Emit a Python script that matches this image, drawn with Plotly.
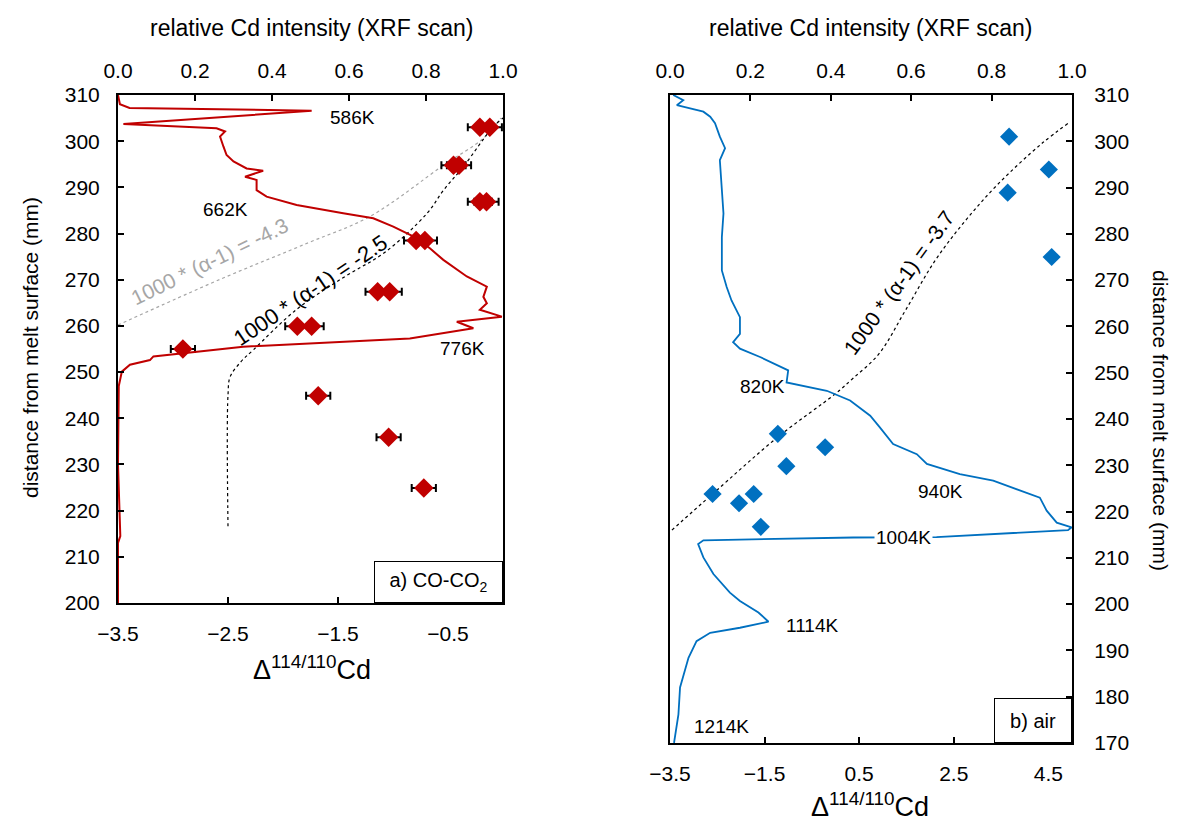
import plotly.graph_objects as go

# page body has an 8px margin: figure is 16px smaller, reference pixels shifted by 8
OFF = 8
W, H = 1184 - 2 * OFF, 832 - 2 * OFF


def px(x):
    return (x - OFF) / W


def py(y):
    return 1 - (y - OFF) / H


# ---------------- Panel a) CO-CO2 ----------------
a_delta = [-0.21, -0.12, -0.45, -0.40, -0.21, -0.15, -0.79, -0.71, -1.14, -1.03,
           -1.87, -1.74, -2.91, -1.68, -1.04, -0.72]
a_dist = [303.0, 303.0, 294.8, 294.8, 286.9, 286.9, 278.5, 278.5, 267.4, 267.4,
          259.9, 259.9, 255.0, 244.9, 235.9, 224.9]
a_err = [0.11] * len(a_delta)

a_xrf_int = [0.0, 0.005, 0.03, 0.503, 0.014, 0.10, 0.256, 0.278, 0.265, 0.274, 0.282,
             0.30, 0.334, 0.377, 0.33, 0.36, 0.36, 0.386, 0.464, 0.585, 0.663, 0.715,
             0.741, 0.776, 0.81, 0.845, 0.906, 0.958, 0.949, 0.958, 0.94, 0.997, 0.88,
             0.923, 0.758, 0.325, 0.092, 0.083, 0.031, 0.01, 0.002, 0.0, 0.006, 0.0, 0.0]
a_xrf_dist = [310, 308, 307.2, 306.6, 303.7, 303.4, 302.8, 302.1, 301, 298.8, 297,
              295.6, 294.1, 293.6, 292.3, 291.6, 289.4, 288, 286.2, 284.4, 283.3, 281.5,
              280.4, 279, 276.8, 274.3, 270.7, 268.5, 266.3, 264.9, 263.5, 262.0, 260.9,
              259.5, 257.3, 255.5, 253.4, 252.6, 251.6, 250.1, 247, 230, 214.5, 213, 200]

a_fit43_delta = [-3.5, -2.57, -1.77, -1.21, -0.54, -0.18, -0.02]
a_fit43_dist = [260.2, 270.1, 278.0, 283.7, 294.8, 300.6, 305.0]

a_fit25_delta = [-2.5, -2.5, -2.48, -2.38, -2.27, -1.88, -1.45, -1.07, -0.69, -0.54,
                 -0.36, -0.09, 0.0]
a_fit25_dist = [216.6, 245.0, 249.0, 252.3, 254.8, 263.5, 270.5, 276.0, 284.4, 289.4,
                294.5, 303.1, 305.0]

# ---------------- Panel b) air ----------------
b_delta = [3.67, 4.51, 3.64, 4.57, -1.22, -0.22, -1.04, -2.60, -1.73, -2.04, -1.58]
b_dist = [301.0, 293.9, 288.9, 275.0, 236.8, 233.9, 229.8, 223.8, 223.8, 221.8, 216.7]

b_xrf_int = [0.008, 0.033, 0.017, 0.083, 0.1, 0.112, 0.124, 0.137, 0.124, 0.129, 0.133,
             0.129, 0.129, 0.141, 0.153, 0.174, 0.174, 0.157, 0.174, 0.224, 0.294, 0.29,
             0.39, 0.448, 0.498, 0.522, 0.555, 0.614, 0.639, 0.721, 0.804, 0.92, 0.937,
             0.962, 0.999, 0.99, 0.663, 0.456, 0.083, 0.07, 0.083, 0.108, 0.149, 0.174,
             0.22, 0.245, 0.174, 0.1, 0.066, 0.046, 0.025, 0.021, 0.01]
b_xrf_dist = [310, 308.9, 307.8, 306.4, 305.3, 303.9, 301.0, 298.5, 295.9, 290.2, 284.4,
              279.3, 272.1, 268.5, 265.6, 262.0, 258.4, 256.6, 255.2, 253.4, 250.5, 247.9,
              246.1, 244.0, 240.7, 238.2, 234.6, 232.4, 230.3, 228.1, 226.7, 223.0, 220.2,
              217.6, 216.6, 216.0, 214.5, 214.4, 213.8, 213.0, 210.1, 206.5, 202.5, 200.7,
              198.2, 196.2, 194.9, 193.8, 192.0, 188.4, 182.0, 176.2, 170.0]

b_fit37_delta = [-3.46, -2.6, -1.22, -0.01, 0.36, 0.92, 1.48, 2.11, 2.75, 3.45, 4.36, 4.96]
b_fit37_dist = [216.0, 223.8, 236.1, 245.4, 248.7, 254.1, 263.5, 274.3, 282.9, 290.9,
                299.5, 304.2]

# temperature labels (intensity, distance, text)
a_temp_labels = [(0.608, 305.2, "586K"), (0.278, 285.3, "662K"), (0.894, 255.0, "776K")]
b_temp_labels = [(0.229, 247.0, "820K"), (0.672, 224.3, "940K"), (0.58, 214.3, "1004K"),
                 (0.353, 195.3, "1114K"), (0.129, 173.6, "1214K")]

RED = "#C00000"
BLUE = "#0070C0"
FONT = "Liberation Sans, Arial, sans-serif"

fig = go.Figure()

# Panel a
fig.add_trace(go.Scatter(x=a_xrf_int, y=a_xrf_dist, xaxis="x2", yaxis="y", mode="lines",
                         line=dict(color=RED, width=2), showlegend=False))
fig.add_trace(go.Scatter(x=a_fit43_delta, y=a_fit43_dist, xaxis="x", yaxis="y", mode="lines",
                         line=dict(color="#A6A6A6", width=1.2, dash="dot", shape="spline"),
                         showlegend=False))
fig.add_trace(go.Scatter(x=a_fit25_delta, y=a_fit25_dist, xaxis="x", yaxis="y", mode="lines",
                         line=dict(color="black", width=1.2, dash="dot", shape="spline"),
                         showlegend=False))
fig.add_trace(go.Scatter(x=a_delta, y=a_dist, xaxis="x", yaxis="y", mode="markers",
                         marker=dict(symbol="diamond", size=15, color=RED),
                         error_x=dict(type="data", array=a_err, color="black",
                                      thickness=2, width=4),
                         showlegend=False))

# Panel b
fig.add_trace(go.Scatter(x=b_xrf_int, y=b_xrf_dist, xaxis="x4", yaxis="y2", mode="lines",
                         line=dict(color=BLUE, width=1.8), showlegend=False))
fig.add_trace(go.Scatter(x=b_fit37_delta, y=b_fit37_dist, xaxis="x3", yaxis="y2", mode="lines",
                         line=dict(color="black", width=1.2, dash="dot", shape="spline"),
                         showlegend=False))
fig.add_trace(go.Scatter(x=b_delta, y=b_dist, xaxis="x3", yaxis="y2", mode="markers",
                         marker=dict(symbol="diamond", size=14, color=BLUE),
                         showlegend=False))

dom_xa = [px(118), px(503)]
dom_xb = [px(670), px(1072)]
dom_ya = [py(603), py(95)]
dom_yb = [py(743), py(95)]

tickfont = dict(family=FONT, size=21, color="black")
common = dict(showgrid=False, zeroline=False, showline=True, linecolor="black", linewidth=2,
              ticks="inside", ticklen=6, tickwidth=1.5, tickcolor="black", tickfont=tickfont,
              automargin=False)

fig.update_layout(
    width=W, height=H, margin=dict(l=0, r=0, t=0, b=0),
    paper_bgcolor="white", plot_bgcolor="white",
    xaxis=dict(domain=dom_xa, anchor="y", range=[-3.5, 0], tick0=-3.5, dtick=1,
               ticklabelstandoff=11, **common),
    xaxis2=dict(domain=dom_xa, anchor="y", overlaying="x", side="top", range=[0, 1],
                dtick=0.2, tickformat=".1f", ticklabelstandoff=7, **common),
    yaxis=dict(domain=dom_ya, anchor="x", range=[200, 310], dtick=10, mirror=True,
               ticklabelstandoff=12, **common),
    xaxis3=dict(domain=dom_xb, anchor="y2", range=[-3.5, 5], tick0=-3.5, dtick=2,
                ticklabelstandoff=11, **common),
    xaxis4=dict(domain=dom_xb, anchor="y2", overlaying="x3", side="top", range=[0, 1],
                dtick=0.2, tickformat=".1f", ticklabelstandoff=7, **common),
    yaxis2=dict(domain=dom_yb, anchor="x3", side="right", range=[170, 310], dtick=10,
                mirror=True, ticklabelstandoff=16, **common),
)

ann = []
txt = dict(family=FONT, size=19, color="black")
for xi, yi, t in a_temp_labels:
    ann.append(dict(x=xi, y=yi, xref="x2", yref="y", text=t, showarrow=False, font=txt))
for xi, yi, t in b_temp_labels:
    ann.append(dict(x=xi, y=yi, xref="x4", yref="y2", text=t, showarrow=False, font=txt,
                    bgcolor="white" if t == "1004K" else None))

# fit labels
ann.append(dict(x=-2.67, y=273.9, xref="x", yref="y", text="1000 * (α-1) = -4.3",
                showarrow=False, textangle=-26,
                font=dict(family=FONT, size=21, color="#A6A6A6")))
ann.append(dict(x=-1.75, y=267.6, xref="x", yref="y", text="1000 * (α-1) = -2.5",
                showarrow=False, textangle=-34,
                font=dict(family=FONT, size=22, color="black")))
ann.append(dict(x=1.34, y=269.5, xref="x3", yref="y2", text="1000 * (α-1) = -3.7",
                showarrow=False, textangle=-54,
                font=dict(family=FONT, size=21, color="black")))

# panel boxes
ann.append(dict(x=px(503), y=py(603), xref="paper", yref="paper", xanchor="right",
                yanchor="bottom", text="a) CO-CO<sub>2</sub>", showarrow=False,
                width=125, height=38, bgcolor="white", bordercolor="black", borderwidth=1,
                font=dict(family=FONT, size=20, color="black")))
ann.append(dict(x=px(1072), y=py(743), xref="paper", yref="paper", xanchor="right",
                yanchor="bottom", text="b) air", showarrow=False,
                width=74, height=41, bgcolor="white", bordercolor="black", borderwidth=1,
                font=dict(family=FONT, size=20, color="black")))

# axis titles
title_font = dict(family=FONT, size=23, color="black")
centered = dict(xref="paper", yref="paper", xanchor="center", yanchor="middle",
                showarrow=False)
ann.append(dict(x=px(311), y=py(28), text="relative Cd intensity (XRF scan)",
                font=title_font, **centered))
ann.append(dict(x=px(870), y=py(28), text="relative Cd intensity (XRF scan)",
                font=title_font, **centered))
ann.append(dict(x=px(312), y=py(668), text="Δ<sup>114/110</sup>Cd",
                font=dict(family=FONT, size=27, color="black"), **centered))
ann.append(dict(x=px(870), y=0, text="Δ<sup>114/110</sup>Cd", xref="paper", yref="paper",
                xanchor="center", yanchor="bottom", showarrow=False,
                font=dict(family=FONT, size=27, color="black")))
ann.append(dict(x=px(30), y=py(348), text="distance from melt surface (mm)", textangle=-90,
                font=dict(family=FONT, size=21, color="black"), **centered))
ann.append(dict(x=px(1161), y=py(420), text="distance from melt surface (mm)", textangle=90,
                font=dict(family=FONT, size=21, color="black"), **centered))

fig.update_layout(annotations=ann)
fig.write_html("out.html")
